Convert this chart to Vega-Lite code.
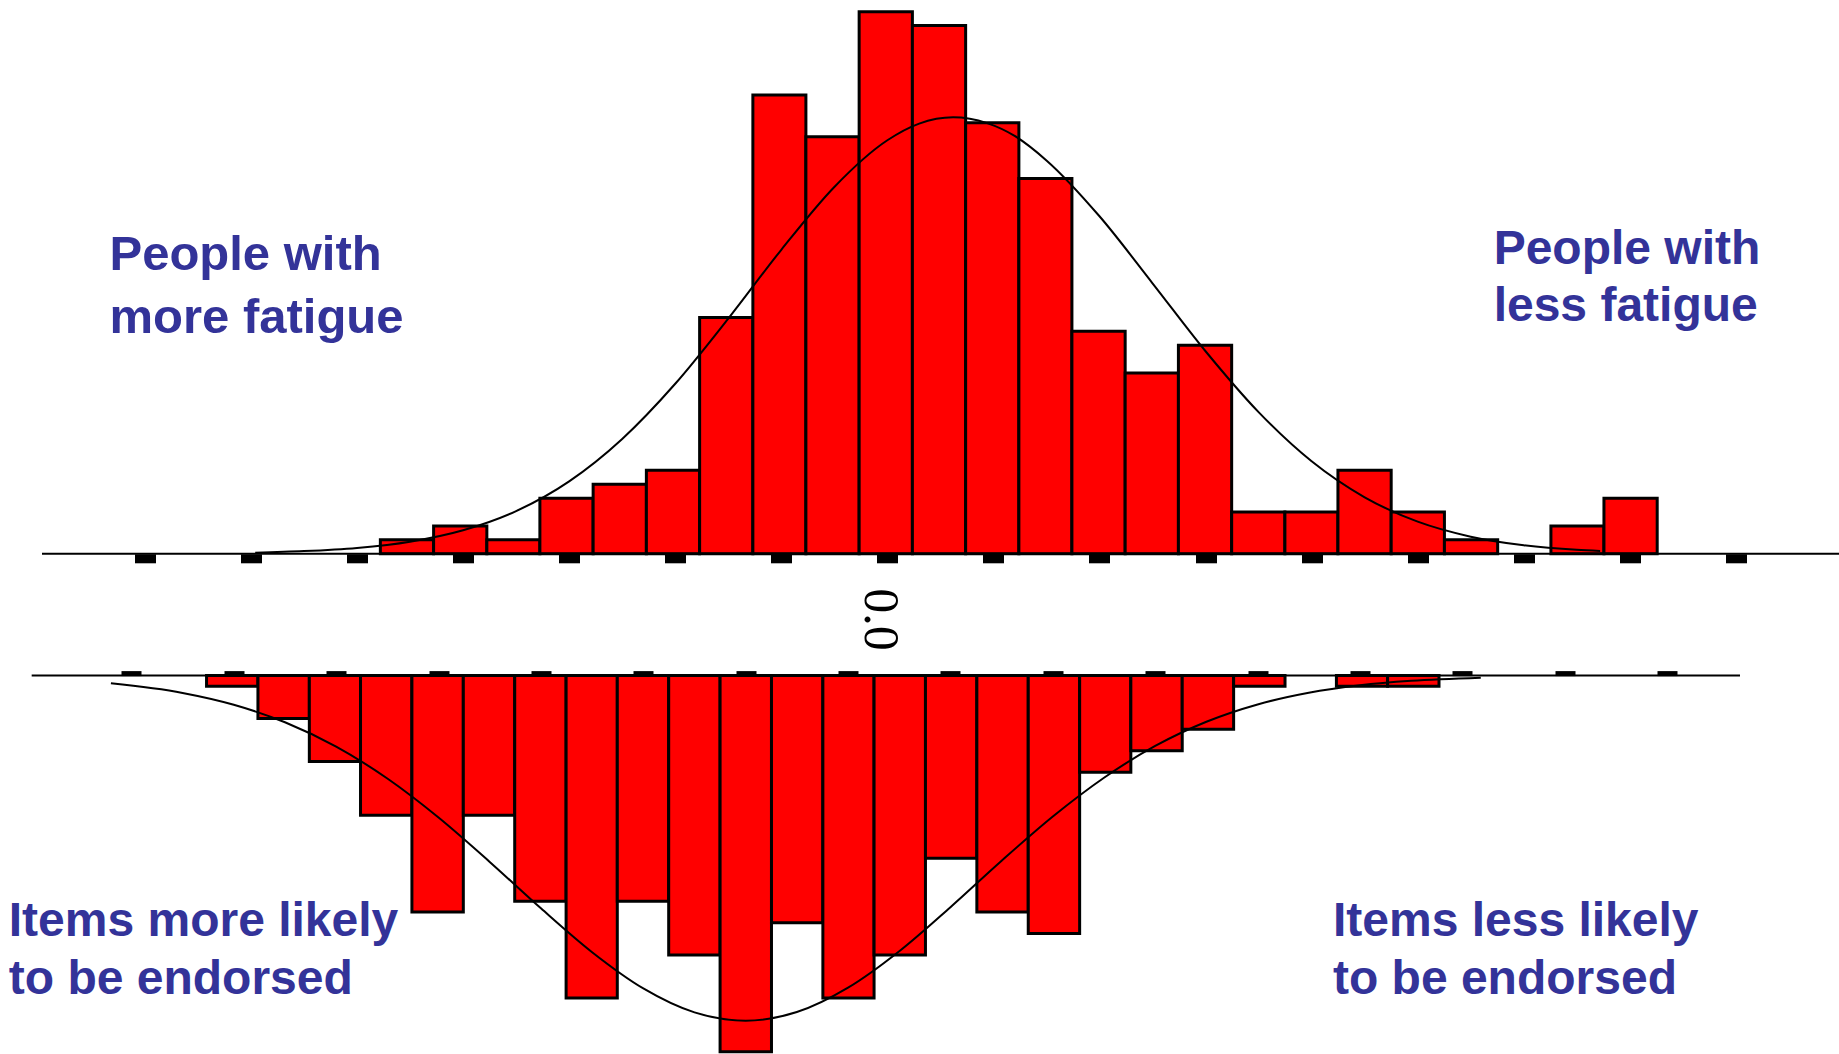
{
  "$schema": "https://vega.github.io/schema/vega-lite/v6.json",
  "width": 1839,
  "height": 1054,
  "autosize": "none",
  "padding": 0,
  "background": "white",
  "config": {"view": {"stroke": null}},
  "datasets": {
    "personBars": [
      {"x0": -2.390, "x1": -2.139, "n": 1},
      {"x0": -2.139, "x1": -1.888, "n": 2},
      {"x0": -1.888, "x1": -1.638, "n": 1},
      {"x0": -1.638, "x1": -1.387, "n": 4},
      {"x0": -1.387, "x1": -1.136, "n": 5},
      {"x0": -1.136, "x1": -0.885, "n": 6},
      {"x0": -0.885, "x1": -0.634, "n": 17},
      {"x0": -0.634, "x1": -0.384, "n": 33},
      {"x0": -0.384, "x1": -0.133, "n": 30},
      {"x0": -0.133, "x1": 0.118, "n": 39},
      {"x0": 0.118, "x1": 0.369, "n": 38},
      {"x0": 0.369, "x1": 0.620, "n": 31},
      {"x0": 0.620, "x1": 0.870, "n": 27},
      {"x0": 0.870, "x1": 1.121, "n": 16},
      {"x0": 1.121, "x1": 1.372, "n": 13},
      {"x0": 1.372, "x1": 1.623, "n": 15},
      {"x0": 1.623, "x1": 1.874, "n": 3},
      {"x0": 1.874, "x1": 2.124, "n": 3},
      {"x0": 2.124, "x1": 2.375, "n": 6},
      {"x0": 2.375, "x1": 2.626, "n": 3},
      {"x0": 2.626, "x1": 2.877, "n": 1},
      {"x0": 3.128, "x1": 3.378, "n": 2},
      {"x0": 3.378, "x1": 3.629, "n": 4}
    ],
    "personCurve": [
      {"v": -2.98, "n": 0.08}, {"v": -2.75, "n": 0.19}, {"v": -2.5, "n": 0.42},
      {"v": -2.25, "n": 0.87}, {"v": -2.0, "n": 1.69}, {"v": -1.75, "n": 3.07},
      {"v": -1.5, "n": 5.21}, {"v": -1.25, "n": 8.26}, {"v": -1.0, "n": 12.23},
      {"v": -0.75, "n": 16.92}, {"v": -0.5, "n": 21.87}, {"v": -0.25, "n": 26.39},
      {"v": 0.0, "n": 29.75}, {"v": 0.15, "n": 30.95}, {"v": 0.31, "n": 31.4},
      {"v": 0.47, "n": 30.98}, {"v": 0.6, "n": 30.06},
      {"v": 0.75, "n": 28.3}, {"v": 1.0, "n": 24.28}, {"v": 1.25, "n": 19.46},
      {"v": 1.5, "n": 14.57}, {"v": 1.75, "n": 10.19}, {"v": 2.0, "n": 6.65},
      {"v": 2.25, "n": 4.06}, {"v": 2.5, "n": 2.31}, {"v": 2.75, "n": 1.23},
      {"v": 3.0, "n": 0.61}, {"v": 3.25, "n": 0.28}, {"v": 3.36, "n": 0.2}
    ],
    "itemBars": [
      {"x0": -3.133, "x1": -2.882, "n": 1},
      {"x0": -2.882, "x1": -2.631, "n": 4},
      {"x0": -2.631, "x1": -2.381, "n": 8},
      {"x0": -2.381, "x1": -2.130, "n": 13},
      {"x0": -2.130, "x1": -1.879, "n": 22},
      {"x0": -1.879, "x1": -1.628, "n": 13},
      {"x0": -1.628, "x1": -1.377, "n": 21},
      {"x0": -1.377, "x1": -1.127, "n": 30},
      {"x0": -1.127, "x1": -0.876, "n": 21},
      {"x0": -0.876, "x1": -0.625, "n": 26},
      {"x0": -0.625, "x1": -0.374, "n": 35},
      {"x0": -0.374, "x1": -0.123, "n": 23},
      {"x0": -0.123, "x1": 0.127, "n": 30},
      {"x0": 0.127, "x1": 0.378, "n": 26},
      {"x0": 0.378, "x1": 0.629, "n": 17},
      {"x0": 0.629, "x1": 0.880, "n": 22},
      {"x0": 0.880, "x1": 1.131, "n": 24},
      {"x0": 1.131, "x1": 1.381, "n": 9},
      {"x0": 1.381, "x1": 1.632, "n": 7},
      {"x0": 1.632, "x1": 1.883, "n": 5},
      {"x0": 1.883, "x1": 2.134, "n": 1},
      {"x0": 2.385, "x1": 2.635, "n": 1},
      {"x0": 2.635, "x1": 2.886, "n": 1}
    ],
    "itemCurve": [
      {"v": -3.6, "n": 0.72}, {"v": -3.25, "n": 1.61}, {"v": -3.0, "n": 2.71},
      {"v": -2.75, "n": 4.34}, {"v": -2.5, "n": 6.61}, {"v": -2.25, "n": 9.57},
      {"v": -2.0, "n": 13.2}, {"v": -1.75, "n": 17.33}, {"v": -1.5, "n": 21.65},
      {"v": -1.25, "n": 25.73}, {"v": -1.0, "n": 29.1}, {"v": -0.75, "n": 31.33},
      {"v": -0.5, "n": 32.1}, {"v": -0.25, "n": 31.3}, {"v": 0.0, "n": 29.03},
      {"v": 0.25, "n": 25.64}, {"v": 0.5, "n": 21.54}, {"v": 0.75, "n": 17.22},
      {"v": 1.0, "n": 13.11}, {"v": 1.25, "n": 9.5}, {"v": 1.5, "n": 6.54},
      {"v": 1.75, "n": 4.29}, {"v": 2.0, "n": 2.68}, {"v": 2.25, "n": 1.59},
      {"v": 2.5, "n": 0.9}, {"v": 2.75, "n": 0.48}, {"v": 3.09, "n": 0.19}
    ]
  },
  "layer": [
    {
      "layer": [
        {
          "data": {"name": "personBars"},
          "mark": {"type": "rect", "fill": "#ff0000", "stroke": "#000000", "strokeWidth": 3},
          "encoding": {
            "x": {
              "field": "x0", "type": "quantitative",
              "scale": {"domain": [-4.183, 4.486], "nice": false, "zero": false},
              "axis": {
                "orient": "bottom", "offset": -500.2, "domain": false, "labels": false,
                "grid": false, "ticks": true, "tickSize": 9, "tickWidth": 21,
                "tickColor": "#000000", "tickCap": "butt", "title": null,
                "values": [-3.5, -3, -2.5, -2, -1.5, -1, -0.5, 0, 0.5, 1, 1.5, 2, 2.5, 3, 3.5, 4]
              }
            },
            "x2": {"field": "x1"},
            "y": {
              "field": "n", "type": "quantitative",
              "scale": {"domain": [-35.99, 39.84], "nice": false, "zero": false},
              "axis": null
            },
            "y2": {"datum": 0}
          }
        },
        {
          "data": {"values": [{}]},
          "mark": {"type": "rule", "stroke": "#000000", "strokeWidth": 2},
          "encoding": {
            "x": {"datum": -3.985, "type": "quantitative"},
            "x2": {"datum": 4.486},
            "y": {"datum": 0, "type": "quantitative"}
          }
        },
        {
          "data": {"name": "personCurve"},
          "mark": {"type": "line", "stroke": "#000000", "strokeWidth": 2, "interpolate": "monotone"},
          "encoding": {
            "x": {"field": "v", "type": "quantitative"},
            "y": {"field": "n", "type": "quantitative"}
          }
        },
        {
          "data": {"values": [{}]},
          "mark": {"type": "text", "angle": 90, "font": "Liberation Serif", "fontSize": 50, "align": "center", "baseline": "middle", "color": "#000000", "text": "0.0"},
          "encoding": {
            "x": {"datum": -0.0325, "type": "quantitative"},
            "y": {"datum": -4.727, "type": "quantitative"}
          }
        },
        {
          "data": {"values": [{}]},
          "mark": {"type": "text", "font": "Liberation Sans", "fontWeight": "bold", "fontSize": 49, "align": "left", "baseline": "alphabetic", "color": "#333399", "text": "People with"},
          "encoding": {
            "x": {"datum": -3.667, "type": "quantitative"},
            "y": {"datum": 20.42, "type": "quantitative"}
          }
        },
        {
          "data": {"values": [{}]},
          "mark": {"type": "text", "font": "Liberation Sans", "fontWeight": "bold", "fontSize": 49, "align": "left", "baseline": "alphabetic", "color": "#333399", "text": "more fatigue"},
          "encoding": {
            "x": {"datum": -3.667, "type": "quantitative"},
            "y": {"datum": 15.91, "type": "quantitative"}
          }
        },
        {
          "data": {"values": [{}]},
          "mark": {"type": "text", "font": "Liberation Sans", "fontWeight": "bold", "fontSize": 48, "align": "left", "baseline": "alphabetic", "color": "#333399", "text": "People with"},
          "encoding": {
            "x": {"datum": 2.858, "type": "quantitative"},
            "y": {"datum": 20.85, "type": "quantitative"}
          }
        },
        {
          "data": {"values": [{}]},
          "mark": {"type": "text", "font": "Liberation Sans", "fontWeight": "bold", "fontSize": 48, "align": "left", "baseline": "alphabetic", "color": "#333399", "text": "less fatigue"},
          "encoding": {
            "x": {"datum": 2.858, "type": "quantitative"},
            "y": {"datum": 16.77, "type": "quantitative"}
          }
        }
      ]
    },
    {
      "layer": [
        {
          "data": {"name": "itemBars"},
          "mark": {"type": "rect", "fill": "#ff0000", "stroke": "#000000", "strokeWidth": 3},
          "encoding": {
            "x": {
              "field": "x0", "type": "quantitative",
              "scale": {"domain": [-4.1417, 4.8395], "nice": false, "zero": false},
              "axis": {
                "orient": "top", "offset": -675.6, "domain": false, "labels": false,
                "grid": false, "ticks": true, "tickSize": 5, "tickWidth": 20,
                "tickColor": "#000000", "tickCap": "butt", "title": null,
                "values": [-3.5, -3, -2.5, -2, -1.5, -1, -0.5, 0, 0.5, 1, 1.5, 2, 2.5, 3, 3.5, 4]
              }
            },
            "x2": {"field": "x1"},
            "y": {
              "field": "n", "type": "quantitative",
              "scale": {"domain": [-62.85, 35.2], "reverse": true, "nice": false, "zero": false},
              "axis": null
            },
            "y2": {"datum": 0}
          }
        },
        {
          "data": {"values": [{}]},
          "mark": {"type": "rule", "stroke": "#000000", "strokeWidth": 2},
          "encoding": {
            "x": {"datum": -3.987, "type": "quantitative"},
            "x2": {"datum": 4.356},
            "y": {"datum": 0, "type": "quantitative"}
          }
        },
        {
          "data": {"name": "itemCurve"},
          "mark": {"type": "line", "stroke": "#000000", "strokeWidth": 2, "interpolate": "monotone"},
          "encoding": {
            "x": {"field": "v", "type": "quantitative"},
            "y": {"field": "n", "type": "quantitative"}
          }
        },
        {
          "data": {"values": [{}]},
          "mark": {"type": "text", "font": "Liberation Sans", "fontWeight": "bold", "fontSize": 48, "align": "left", "baseline": "alphabetic", "color": "#333399", "text": "Items more likely"},
          "encoding": {
            "x": {"datum": -4.099, "type": "quantitative"},
            "y": {"datum": 24.195, "type": "quantitative"}
          }
        },
        {
          "data": {"values": [{}]},
          "mark": {"type": "text", "font": "Liberation Sans", "fontWeight": "bold", "fontSize": 48, "align": "left", "baseline": "alphabetic", "color": "#333399", "text": "to be endorsed"},
          "encoding": {
            "x": {"datum": -4.099, "type": "quantitative"},
            "y": {"datum": 29.618, "type": "quantitative"}
          }
        },
        {
          "data": {"values": [{}]},
          "mark": {"type": "text", "font": "Liberation Sans", "fontWeight": "bold", "fontSize": 48, "align": "left", "baseline": "alphabetic", "color": "#333399", "text": "Items less likely"},
          "encoding": {
            "x": {"datum": 2.368, "type": "quantitative"},
            "y": {"datum": 24.195, "type": "quantitative"}
          }
        },
        {
          "data": {"values": [{}]},
          "mark": {"type": "text", "font": "Liberation Sans", "fontWeight": "bold", "fontSize": 48, "align": "left", "baseline": "alphabetic", "color": "#333399", "text": "to be endorsed"},
          "encoding": {
            "x": {"datum": 2.368, "type": "quantitative"},
            "y": {"datum": 29.618, "type": "quantitative"}
          }
        }
      ]
    }
  ],
  "resolve": {"scale": {"x": "independent", "y": "independent"}}
}
